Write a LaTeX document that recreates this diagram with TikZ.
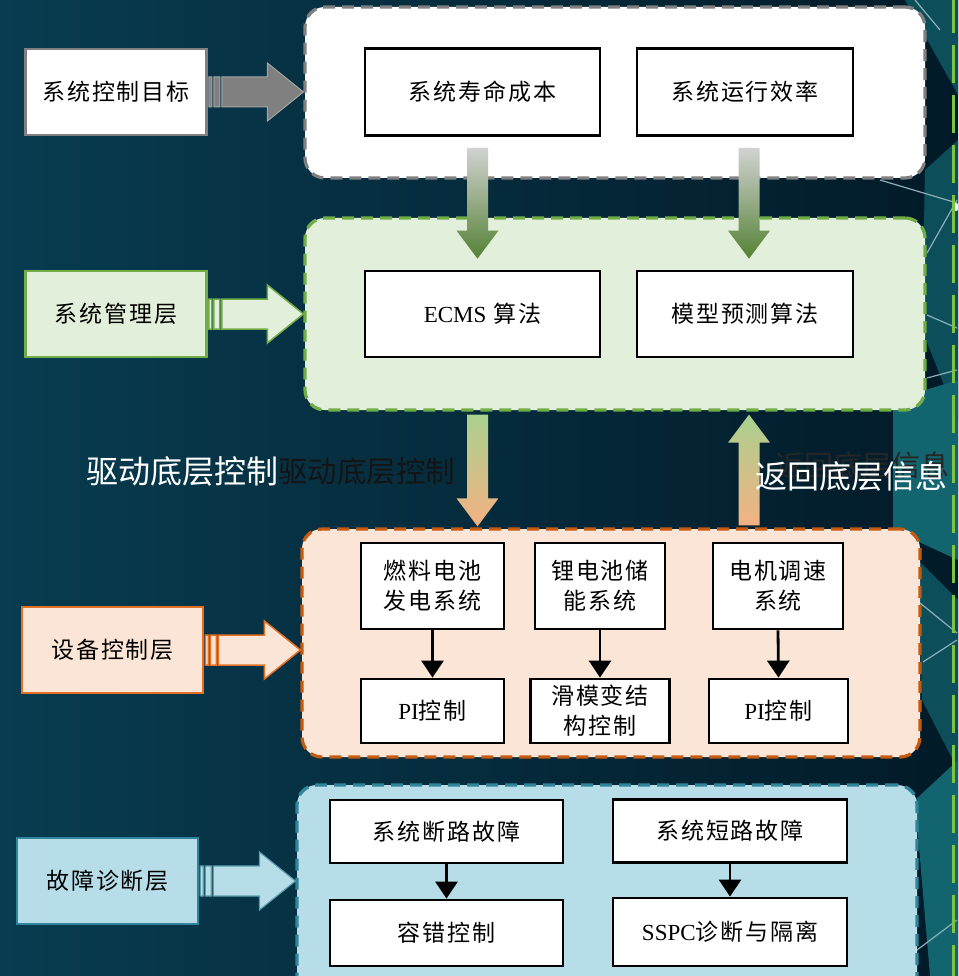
\documentclass[tikz,border=0pt]{standalone}
\usepackage{fontspec}
\setmainfont{Liberation Serif}
\newfontfamily\cjk{Noto Sans CJK SC}[LetterSpace=8]
\newfontfamily\cjkw{Noto Sans CJK SC}
\usetikzlibrary{arrows.meta,calc}
\definecolor{bgL}{RGB}{8,60,80}
\definecolor{bgR}{RGB}{2,26,40}
\definecolor{grayB}{RGB}{128,128,128}
\definecolor{grnF}{RGB}{226,239,218}
\definecolor{grnB}{RGB}{112,173,71}
\definecolor{orgF}{RGB}{251,229,214}
\definecolor{orgB}{RGB}{197,90,17}
\definecolor{orgL}{RGB}{228,112,36}
\definecolor{bluF}{RGB}{183,222,232}
\definecolor{bluB}{RGB}{49,133,155}
\definecolor{lgrn}{RGB}{169,209,142}
\definecolor{dgrn}{RGB}{84,130,53}
\definecolor{lorg}{RGB}{244,177,131}
\definecolor{morg}{RGB}{248,210,185}
\definecolor{lgray}{RGB}{210,210,210}
\definecolor{netg}{RGB}{125,194,66}
\definecolor{decA}{RGB}{12,78,90}
\definecolor{decB}{RGB}{18,100,110}
\definecolor{decL}{RGB}{140,175,185}
\newcommand{\lat}[1]{{\rmfamily #1}}
\newcommand{\LayerArrow}[3]{%
  \path[#3] let \p1=(#1.east), \p2=(#2.west) in
  ({\x1+1},{\y1-15}) rectangle ({\x1+4},{\y1+15})
  ({\x1+6},{\y1-15}) rectangle ({\x1+12},{\y1+15})
  ({\x1+14},{\y1-15}) -- ({\x2-36},{\y1-15}) -- ({\x2-36},{\y1-29}) -- (\x2,\y1) --
  ({\x2-36},{\y1+29}) -- ({\x2-36},{\y1+15}) -- ({\x1+14},{\y1+15}) -- cycle;}
\newcommand{\VArrow}[4]{%
  \path[#4] let \p1=(#1), \p2=(#2), \n1={\y2+#3} in
  ({\x1-10.5},\y1) -- ({\x1+10.5},\y1) -- ({\x1+10.5},\n1) -- ({\x1+21},\n1) --
  (\x1,\y2) -- ({\x1-21},\n1) -- ({\x1-10.5},\n1) -- cycle;}
\begin{document}
\begin{tikzpicture}[x=1pt,y=-1pt,
  inbox/.style={draw=black, line width=2.8pt, fill=white, inner sep=0pt, align=center,
    font=\cjk\fontsize{23}{30}\selectfont},
  lblbox/.style={line width=2.5pt, inner sep=0pt, minimum width=181, minimum height=86,
    font=\cjk\fontsize{23}{30}\selectfont},
  cont/.style={line width=3.2pt, rounded corners=20pt, dash pattern=on 12pt off 7pt, inner sep=0pt},
  blk/.style={line width=2.8pt, -{Triangle[length=17pt,width=22pt]}},
  wlab/.style={inner sep=0pt, font=\cjkw\fontsize{32}{36}\selectfont},
  netline/.style={decL, line width=1.2pt}
]
\useasboundingbox (0,0) rectangle (958,976);
\clip (0,0) rectangle (958,976);
% background
\shade[left color=bgL, right color=bgR] (0,0) rectangle (958,976);
\fill[decA] (905,0) -- (958,0) -- (958,95) -- cycle;
\fill[decA] (925,170) -- (958,140) -- (958,420) -- (922,330) -- cycle;
\fill[decB] (893,400) -- (958,380) -- (958,560) -- (893,530) -- cycle;
\fill[decA] (918,560) -- (958,600) -- (958,770) -- (922,700) -- cycle;
\fill[decB] (915,800) -- (958,760) -- (958,976) -- (930,976) -- cycle;
\draw[netline] (880,180) -- (957,203);
\draw[netline] (927,253) -- (957,200);
\draw[netline] (927,315) -- (957,328);
\draw[netline] (927,378) -- (957,370);
\draw[netline] (920,603) -- (957,633);
\draw[netline] (923,662) -- (957,640);
\draw[netline] (913,953) -- (957,920);
\draw[netline] (915,0) -- (940,30);
\fill[white!85!decL] (956,207) circle (4);
\draw[netg, line width=3pt, dash pattern=on 38pt off 12pt] (953,-5) -- (953,985);

% containers
\node[cont, draw=grayB, fill=white, minimum width=620, minimum height=171] (ct1) at (615,92.5) {};
\node[cont, draw=grnB, fill=grnF, minimum width=620, minimum height=192] (ct2) at (615,314) {};
\node[cont, draw=orgB, fill=orgF, minimum width=618, minimum height=228] (ct3) at (611,643) {};
\node[cont, draw=bluB, fill=bluF, minimum width=620, minimum height=215] (ct4) at (607,892.5) {};

% left labels
\node[lblbox, draw=grayB, fill=white] (l1) at (116,92) {系统控制目标};
\node[lblbox, draw=grnB, fill=grnF] (l2) at (116,314) {系统管理层};
\node[lblbox, draw=orgL, fill=orgF] (l3) at (112.5,650) {设备控制层};
\node[lblbox, draw=bluB, fill=bluF] (l4) at (107.5,881) {故障诊断层};

\LayerArrow{l1}{ct1}{fill=grayB, draw=grayB!70, line width=1pt}
\LayerArrow{l2}{ct2}{fill=grnF, draw=grnB, line width=1.5pt}
\LayerArrow{l3}{ct3}{fill=orgF, draw=orgL, line width=1.5pt}
\LayerArrow{l4}{ct4}{fill=bluF, draw=bluB!80, line width=1.2pt}

% inner boxes
\node[inbox, minimum width=235, minimum height=87] (lc) at (482.5,92) {系统寿命成本};
\node[inbox, minimum width=216, minimum height=87] (ef) at (745,92) {系统运行效率};
\node[inbox, minimum width=235, minimum height=86] (ecms) at (482.5,314) {\lat{ECMS} 算法};
\node[inbox, minimum width=216, minimum height=86] (mp) at (745,314) {模型预测算法};

\node[inbox, minimum width=143, minimum height=86] (fc) at (432.5,586) {燃料电池\\发电系统};
\node[inbox, minimum width=130, minimum height=86] (li) at (600,586) {锂电池储\\能系统};
\node[inbox, minimum width=130, minimum height=86] (mo) at (778,586) {电机调速\\系统};
\node[inbox, minimum width=143, minimum height=64] (pi1) at (432.5,711) {\lat{PI}控制};
\node[inbox, minimum width=139, minimum height=64] (sm) at (600,711) {滑模变结\\构控制};
\node[inbox, minimum width=139, minimum height=64] (pi2) at (778.5,711) {\lat{PI}控制};

\node[inbox, minimum width=233, minimum height=63] (op) at (446.5,831.5) {系统断路故障};
\node[inbox, minimum width=234, minimum height=63] (sc) at (730,831) {系统短路故障};
\node[inbox, minimum width=233, minimum height=66] (ft) at (446.5,933) {容错控制};
\node[inbox, minimum width=234, minimum height=68] (ss) at (730,932) {\lat{SSPC}诊断与隔离};

\draw[blk] (fc.south) -- (pi1.north);
\draw[blk] (li.south) -- (sm.north);
\draw[blk] (mo.south) -- (pi2.north);
\draw[blk] (op.south) -- (ft.north);
\draw[blk] (sc.south) -- (ss.north);

% big gradient arrows
\coordinate (a1s) at ($(lc.south)+(-5,11)$);
\coordinate (a1t) at ($(ecms.north)+(-5,-11)$);
\coordinate (a2s) at ($(ef.south)+(4,11)$);
\coordinate (a2t) at ($(mp.north)+(4,-11)$);
\coordinate (a3s) at ($(ecms.south |- ct2.south)+(-5,3)$);
\coordinate (a3t) at ($(ecms.south |- ct3.north)+(-5,-1)$);
\coordinate (a4s) at ($(mp.south |- ct3.north)+(4,-2)$);
\coordinate (a4t) at ($(mp.south |- ct2.south)+(4,3)$);
\VArrow{a1s}{a1t}{28}{top color=lgray, middle color=lgrn!85!white, bottom color=dgrn}
\VArrow{a2s}{a2t}{28}{top color=lgray, middle color=lgrn!85!white, bottom color=dgrn}
\VArrow{a3s}{a3t}{28}{top color=lgrn, middle color=morg, bottom color=lorg}
\VArrow{a4s}{a4t}{-28}{top color=lgrn, middle color=lgrn!60!lorg, bottom color=lorg}

% labels
\node[wlab, text=white] (drv) at (182,471) {驱动底层控制};
\node[wlab, text=black!92, font=\cjkw\fontsize{29.5}{34}\selectfont, anchor=west] (drv2) at (drv.east) {驱动底层控制};
\node[wlab, text=black!85, font=\cjkw\fontsize{29}{34}\selectfont] (retg) at (862,465) {返回底层信息};
\node[wlab, text=white] (ret) at (851,476) {返回底层信息};
\end{tikzpicture}
\end{document}
